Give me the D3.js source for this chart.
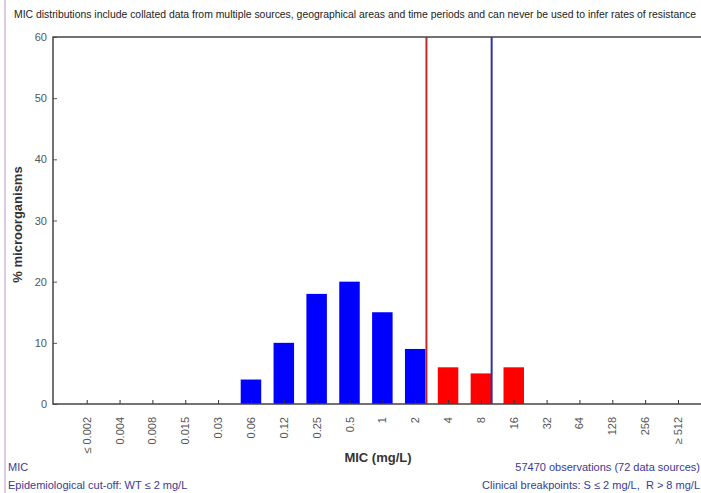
<!DOCTYPE html>
<html>
<head>
<meta charset="utf-8">
<script src="https://cdn.jsdelivr.net/npm/d3@7"></script>
<style>
  body { margin: 0; background: #fff; }
  text { font-family: Arial, "Liberation Sans", sans-serif; }
</style>
</head>
<body>
<div id="chart"></div>
<script>
const categories = ["≤ 0.002", "0.004", "0.008", "0.015", "0.03", "0.06", "0.12", "0.25", "0.5", "1", "2",
                    "4", "8", "16", "32", "64", "128", "256", "≥ 512"];
const percents = [0, 0, 0, 0, 0, 4, 10, 18, 20, 15, 9, 6, 5, 6, 0, 0, 0, 0, 0];
const yTicks = [0, 10, 20, 30, 40, 50, 60];
const ecoffIndex = 10;      // WT <= 2 mg/L
const resistIndex = 12;     // R > 8 mg/L

const W = 701, H = 493;
const plot = { left: 53, right: 701, top: 37, bottom: 404 };

const svg = d3.select("#chart").append("svg")
    .attr("width", W)
    .attr("height", H);

// purple frame line on the left
svg.append("line")
    .attr("x1", 5).attr("x2", 5).attr("y1", 0).attr("y2", H)
    .style("stroke", "#b89ac8").style("stroke-width", 1);

const x = d3.scalePoint()
    .domain(categories)
    .range([86.7, 86.7 + 32.85 * (categories.length - 1)]);

const y = d3.scaleLinear()
    .domain([0, 60])
    .range([plot.bottom, plot.top]);

const barW = 20.5;

// bars
svg.selectAll(".bar")
    .data(categories.map((c, i) => ({ cat: c, value: percents[i], i })).filter(d => d.value > 0))
    .enter()
    .append("rect")
    .attr("class", "bar")
    .attr("x", d => x(d.cat) - barW / 2)
    .attr("y", d => y(d.value))
    .attr("width", barW)
    .attr("height", d => y(0) - y(d.value))
    .style("fill", d => d.i > ecoffIndex ? "#ff0000" : "#0000ff");

// breakpoint lines, at the right edge of the bars
svg.append("line")
    .attr("x1", x(categories[ecoffIndex]) + barW / 2 + 1)
    .attr("x2", x(categories[ecoffIndex]) + barW / 2 + 1)
    .attr("y1", plot.top).attr("y2", plot.bottom)
    .style("stroke", "#c0282c").style("stroke-width", 2);

svg.append("line")
    .attr("x1", x(categories[resistIndex]) + barW / 2 + 0.5)
    .attr("x2", x(categories[resistIndex]) + barW / 2 + 0.5)
    .attr("y1", plot.top).attr("y2", plot.bottom)
    .style("stroke", "#3030a4").style("stroke-width", 2);

// y axis
const yAxis = svg.append("g")
    .attr("transform", `translate(${plot.left},0)`)
    .call(d3.axisRight(y).tickValues(yTicks).tickSize(4).tickFormat(d3.format("d")));
yAxis.select(".domain").remove();
yAxis.selectAll("line").style("stroke", "#555");
yAxis.selectAll("text")
    .attr("x", -6)
    .attr("text-anchor", "end")
    .style("font-size", "11px")
    .style("fill", "#555");

// x axis
const xAxis = svg.append("g")
    .attr("transform", `translate(0,${plot.bottom})`)
    .call(d3.axisTop(x).tickSize(4).tickFormat(""));
xAxis.select(".domain").remove();
xAxis.selectAll("line").style("stroke", "#333");

svg.selectAll(".xlabel")
    .data(categories)
    .enter()
    .append("text")
    .attr("class", "xlabel")
    .attr("transform", d => `translate(${x(d) + 4},417) rotate(-90)`)
    .attr("text-anchor", "end")
    .style("font-size", "11px")
    .style("fill", "#555")
    .text(d => d);

// frame
svg.append("path")
    .attr("d", `M${plot.right},${plot.top} H${plot.left} V${plot.bottom} H${plot.right}`)
    .style("fill", "none")
    .style("stroke", "#444")
    .style("stroke-width", 1.5);

// titles
svg.append("text")
    .attr("x", 14).attr("y", 18)
    .attr("textLength", 682)
    .attr("lengthAdjust", "spacingAndGlyphs")
    .style("font-size", "10px")
    .style("fill", "#222")
    .text("MIC distributions include collated data from multiple sources, geographical areas and time periods and can never be used to infer rates of resistance");

svg.append("text")
    .attr("transform", `translate(22,${(plot.top + plot.bottom) / 2 + 4}) rotate(-90)`)
    .attr("text-anchor", "middle")
    .style("font-size", "13px")
    .style("font-weight", "bold")
    .style("fill", "#333")
    .text("% microorganisms");

svg.append("text")
    .attr("x", 378).attr("y", 462)
    .attr("text-anchor", "middle")
    .style("font-size", "13px")
    .style("font-weight", "bold")
    .style("fill", "#333")
    .text("MIC (mg/L)");

// footnotes
const footColor = "#3a3a94";
svg.append("text")
    .attr("x", 8).attr("y", 471)
    .style("font-size", "11px").style("fill", footColor)
    .text("MIC");
svg.append("text")
    .attr("x", 8).attr("y", 489)
    .style("font-size", "11px").style("fill", footColor)
    .text("Epidemiological cut-off: WT ≤ 2 mg/L");
svg.append("text")
    .attr("x", 700).attr("y", 471)
    .attr("text-anchor", "end")
    .style("font-size", "11px").style("fill", footColor)
    .text("57470 observations (72 data sources)");
svg.append("text")
    .attr("x", 700).attr("y", 489)
    .attr("text-anchor", "end")
    .style("font-size", "11px").style("fill", footColor)
    .text("Clinical breakpoints: S ≤ 2 mg/L,\u00a0 R > 8 mg/L");
</script>
</body>
</html>
